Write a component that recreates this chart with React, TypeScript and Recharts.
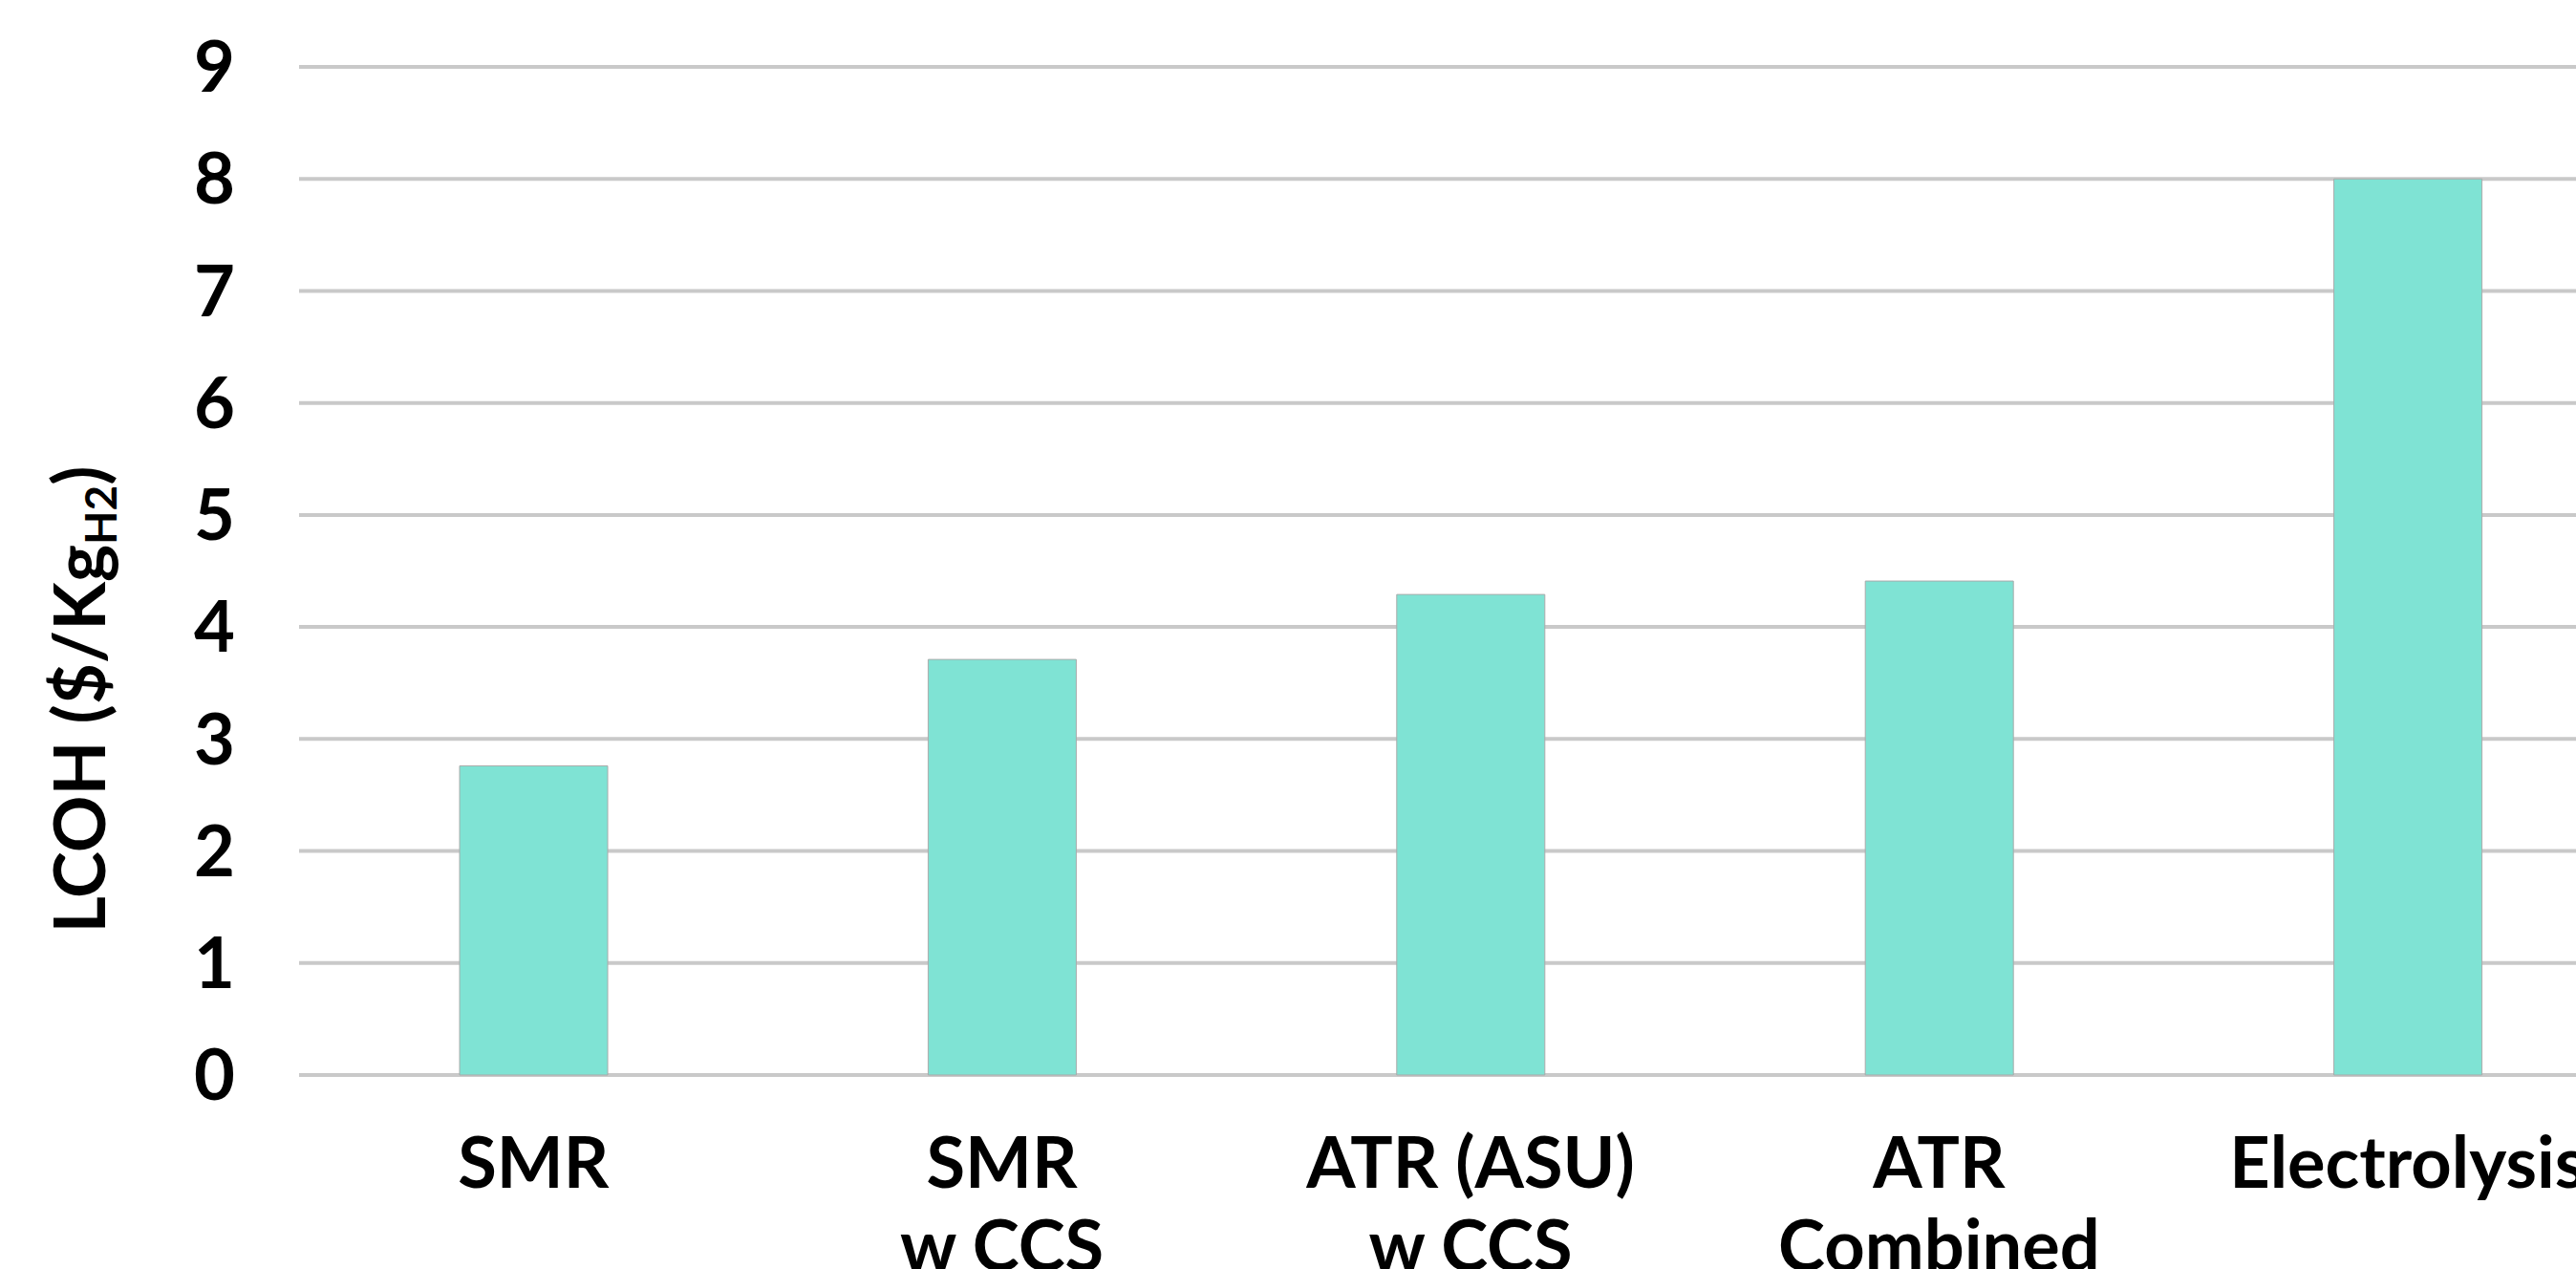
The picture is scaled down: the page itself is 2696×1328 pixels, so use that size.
import { BarChart, Bar, XAxis, YAxis, CartesianGrid } from "recharts";

// categories (line breaks mark the two-line tick labels)
const categories = ["SMR", "SMR\nw CCS", "ATR (ASU)\nw CCS", "ATR\nCombined", "Electrolysis"];
// levelised cost of hydrogen, $/kg H2
const lcoh = [2.76, 3.71, 4.29, 4.41, 8.0];
const yTicks = [0, 1, 2, 3, 4, 5, 6, 7, 8, 9];

const data = categories.map((name, i) => ({ name, lcoh: lcoh[i] }));

const FONT = "Lato, 'Open Sans', sans-serif";

function CategoryTick({ x, y, payload }: any) {
  const lines = String(payload.value).split("\n");
  return (
    <text textAnchor="middle" fontFamily={FONT} fontWeight={700} fontSize={74} fill="#000">
      {lines.map((line, i) => (
        <tspan key={i} x={x} y={y + 118 + i * 87}>
          {line}
        </tspan>
      ))}
    </text>
  );
}

function YTitle() {
  // rotated axis title with subscript H2
  return (
    <text
      x={110}
      y={732}
      transform="rotate(-90, 110, 732)"
      textAnchor="middle"
      fontFamily={FONT}
      fontWeight={700}
      fontSize={74}
      fill="#000"
    >
      LCOH ($/Kg
      <tspan fontSize={46} dy={12}>
        H2
      </tspan>
      <tspan dy={-12}>)</tspan>
    </text>
  );
}

export default function App() {
  return (
    <div
      style={{
        position: "absolute",
        left: 0,
        top: 0,
        width: 2696,
        height: 1328,
        overflow: "hidden",
        background: "#fff",
      }}
    >
      <BarChart
        width={2800}
        height={1328}
        data={data}
        margin={{ top: 70, right: 35, bottom: 0, left: 0 }}
      >
        <CartesianGrid vertical={false} stroke="#c9c9c9" strokeWidth={4} />
        <XAxis
          dataKey="name"
          height={203}
          axisLine={false}
          tickLine={false}
          tickSize={0}
          tickMargin={0}
          interval={0}
          tick={<CategoryTick />}
        />
        <YAxis
          width={313}
          domain={[0, 9]}
          ticks={yTicks}
          axisLine={false}
          tickLine={false}
          tickSize={0}
          tickMargin={67}
          tick={{ fill: "#000", fontSize: 74, fontWeight: 700, fontFamily: FONT }}
          label={{ content: () => <YTitle /> }}
        />
        <Bar
          dataKey="lcoh"
          barSize={155}
          fill="#7fe3d4"
          stroke="#aaaaaa"
          strokeWidth={1}
          isAnimationActive={false}
        />
      </BarChart>
    </div>
  );
}
